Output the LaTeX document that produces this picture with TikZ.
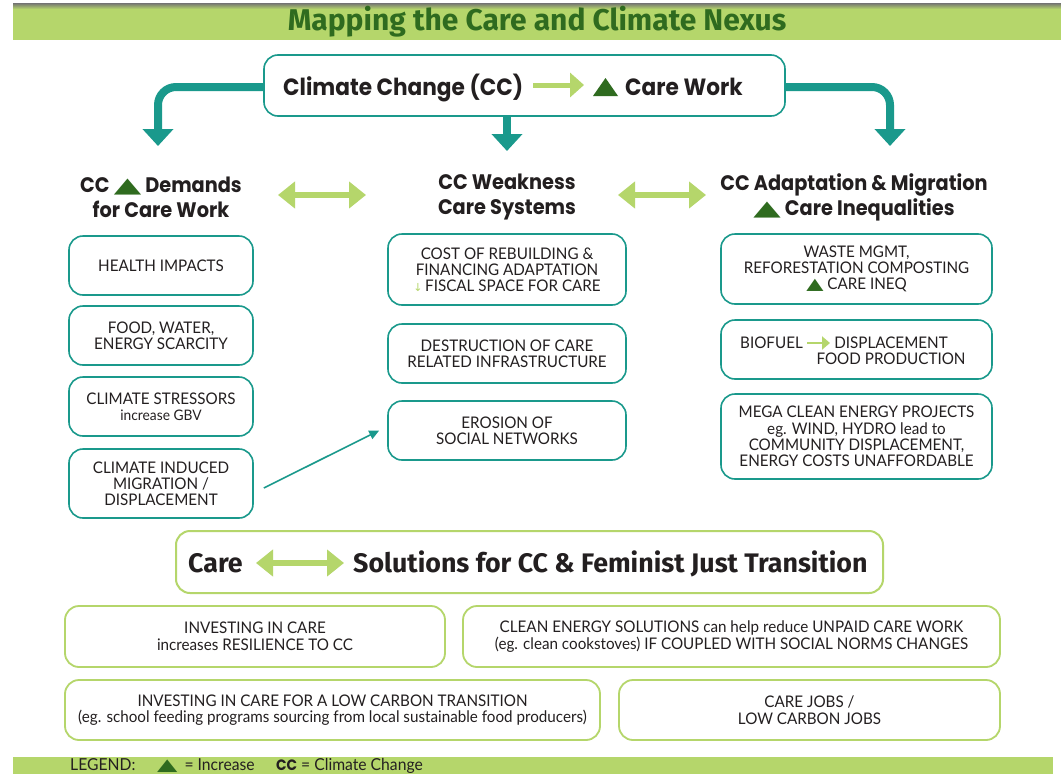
\documentclass[tikz,border=0pt]{standalone}
\usepackage{fontspec}
\setmainfont[FakeStretch=0.95]{Lato}
\newfontfamily\headf[FakeStretch=0.92]{Poppins}
\newfontfamily\titlef{Fira Sans}
\newfontfamily\banf{Fira Sans}
\newfontfamily\symf{DejaVu Sans}
\usetikzlibrary{arrows.meta}
\definecolor{teal}{HTML}{1A998C}
\definecolor{lgreen}{HTML}{B5D66B}
\definecolor{dgreen}{HTML}{2F6B1F}
\definecolor{txt}{HTML}{231F20}
\newcommand\tri[1][1]{{\color{dgreen}\symf\scalebox{#1}[1]{▲}}}
\begin{document}
\begin{tikzpicture}[x=1pt,y=-1pt,
  tbox/.style={draw=teal, line width=1.6pt, rounded corners=14pt, fill=white, align=center, text=txt,
    font=\fontsize{16}{16.2}\selectfont, inner sep=0pt},
  gbox/.style={draw=lgreen, line width=1.8pt, rounded corners=14pt, fill=white, align=center, text=txt,
    font=\fontsize{16}{16.5}\selectfont, inner sep=0pt},
  head/.style={align=center, text=txt, font=\headf\bfseries\fontsize{21}{25}\selectfont, inner sep=0pt},
  garrow/.style={draw=lgreen, line width=5pt, -{Triangle[length=14pt,width=24pt]}},
  gdarrow/.style={draw=lgreen, line width=6pt, {Triangle[length=17pt,width=26pt]}-{Triangle[length=17pt,width=26pt]}},
  tconn/.style={draw=teal, line width=8pt, rounded corners=18pt, -{Triangle[length=17pt,width=30pt]}},
  thin/.style={draw=teal, line width=1.6pt, -{Triangle[length=10pt,width=9pt]}},
]
\useasboundingbox (0,0) rectangle (1061,774);
\fill[white] (0,0) rectangle (1061,774);
% title bar
\fill[lgreen] (13,4) rectangle (1061,40);
\shade[top color=black!55, bottom color=lgreen] (13,3) rectangle (1061,9);
\node[text=dgreen, font=\titlef\bfseries\fontsize{30}{32}\selectfont, inner sep=0pt] (title) at (537,22) {Mapping the Care and Climate Nexus};
% top box
\node[tbox, minimum width=521pt, minimum height=61pt] (top) at (524.5,85.5) {};
\node[anchor=base west, text=txt, font=\headf\bfseries\fontsize{23.5}{26}\selectfont, inner sep=0pt] (t1) at (283,95) {Climate Change (CC)};
\coordinate (ta1) at (533,85);
\coordinate (ta2) at (584,85);
\draw[garrow] (ta1) -- (ta2);
\fill[dgreen] (593,96) -- (618,96) -- (605.5,78) -- cycle;
\node[anchor=base west, text=txt, font=\headf\bfseries\fontsize{23.5}{26}\selectfont, inner sep=0pt] (t2) at (625,95) {Care Work};
% teal connectors
\coordinate (cl) at (158,146);
\coordinate (cm) at (507,151);
\coordinate (cr) at (890,146);
\draw[tconn] (top.west |- 0,87) -| (cl);
\draw[tconn] (top.east |- 0,87) -| (cr);
\draw[tconn, rounded corners=0pt] (top.south -| cm) -- (cm);
% headings
\node[head] (h1) at (161,197) {CC \tri[1.7] Demands\\for Care Work};
\node[head] (h2) at (507,197) {CC Weakness\\Care Systems};
\node[head] (h3) at (854,197) {CC Adaptation \& Migration\\\tri[1.7] Care Inequalities};
\coordinate (d1a) at (278,195);
\coordinate (d1b) at (366,195);
\coordinate (d2a) at (618,195);
\coordinate (d2b) at (706,195);
\draw[gdarrow] (d1a) -- (d1b);
\draw[gdarrow] (d2a) -- (d2b);
% left column
\node[tbox, minimum width=184pt, minimum height=59pt] (l1) at (161,265.5) {HEALTH IMPACTS};
\node[tbox, minimum width=184pt, minimum height=59pt] (l2) at (161,335.5) {FOOD, WATER,\\ENERGY SCARCITY};
\node[tbox, minimum width=184pt, minimum height=59pt] (l3) at (161,406.5) {CLIMATE STRESSORS\\{\fontsize{14.5}{16}\selectfont increase GBV}};
\node[tbox, minimum width=184pt, minimum height=69pt] (l4) at (161,483.5) {CLIMATE INDUCED\\MIGRATION /\\DISPLACEMENT};
% middle column
\node[tbox, minimum width=238pt, minimum height=71pt] (m1) at (507,269.5) {COST OF REBUILDING \&\\FINANCING ADAPTATION\\{\color{lgreen}\symf\fontsize{11}{12}\selectfont ↓}\,FISCAL SPACE FOR CARE};
\node[tbox, minimum width=238pt, minimum height=59pt] (m2) at (507,353.5) {DESTRUCTION OF CARE\\RELATED INFRASTRUCTURE};
\node[tbox, minimum width=238pt, minimum height=59pt] (m3) at (507,430.5) {EROSION OF\\SOCIAL NETWORKS};
% right column
\node[tbox, minimum width=271pt, minimum height=70pt] (r1) at (856.5,269) {WASTE MGMT,\\REFORESTATION COMPOSTING\\\tri[1.4] CARE INEQ};
\node[tbox, minimum width=271pt, minimum height=59pt] (r2) at (856.5,349.5) {};
\node[anchor=west, text=txt, font=\fontsize{16}{16.2}\selectfont, inner sep=0pt] (r2a) at (740,343) {BIOFUEL};
\node[align=center, text=txt, font=\fontsize{16}{16.2}\selectfont, inner sep=0pt] (r2b) at (891,351) {DISPLACEMENT\\FOOD PRODUCTION};
\coordinate (ba1) at (807,343);
\coordinate (ba2) at (830,343);
\draw[draw=lgreen, line width=2.5pt, -{Triangle[length=8pt,width=13pt]}] (ba1) -- (ba2);
\node[tbox, minimum width=271pt, minimum height=85pt] (r3) at (856.5,436.5) {MEGA CLEAN ENERGY PROJECTS\\eg. WIND, HYDRO lead to\\COMMUNITY DISPLACEMENT,\\ENERGY COSTS UNAFFORDABLE};
% thin connector
\draw[thin] ([xshift=10pt,yshift=-4.5pt]l4.east) -- ([xshift=-8pt]m3.west);
% banner
\node[gbox, line width=2pt, minimum width=707pt, minimum height=62pt] (ban) at (529.5,562) {};
\node[anchor=base west, text=txt, font=\banf\bfseries\fontsize{26.8}{28}\selectfont, inner sep=0pt] (bc) at (188,572) {Care};
\coordinate (bd1) at (256,563);
\coordinate (bd2) at (344,563);
\draw[gdarrow] (bd1) -- (bd2);
\node[anchor=base west, text=txt, font=\banf\bfseries\fontsize{26.8}{28}\selectfont, inner sep=0pt] (bs) at (353,572) {Solutions for CC \& Feminist Just Transition};
% bottom boxes
\node[gbox, minimum width=380pt, minimum height=61pt] (b1) at (255,636.5) {INVESTING IN CARE\\increases RESILIENCE TO CC};
\node[gbox, minimum width=537pt, minimum height=61pt] (b2) at (731.5,636.5) {CLEAN ENERGY SOLUTIONS can help reduce UNPAID CARE WORK\\(eg. clean cookstoves) IF COUPLED WITH SOCIAL NORMS CHANGES};
\node[gbox, minimum width=535pt, minimum height=60pt] (b3) at (332.5,710) {INVESTING IN CARE FOR A LOW CARBON TRANSITION\\(eg. school feeding programs sourcing from local sustainable food producers)};
\node[gbox, minimum width=381pt, minimum height=60pt] (b4) at (809.5,710) {CARE JOBS /\\LOW CARBON JOBS};
% legend bar
\fill[lgreen] (13,756.5) rectangle (1053,780);
\node[anchor=base west, text=txt, font=\fontsize{16.5}{17}\selectfont, inner sep=0pt] (lg1) at (70,770) {LEGEND:};
\node[anchor=base west, text=txt, font=\fontsize{16.5}{17}\selectfont, inner sep=0pt] (lg2) at (157,770) {\tri[1.6]\hspace{7pt}= Increase};
\node[anchor=base west, text=txt, font=\fontsize{16.5}{17}\selectfont, inner sep=0pt] (lg3) at (276,770) {{\headf\bfseries\fontsize{15}{16}\selectfont CC} = Climate Change};
\end{tikzpicture}
\end{document}
